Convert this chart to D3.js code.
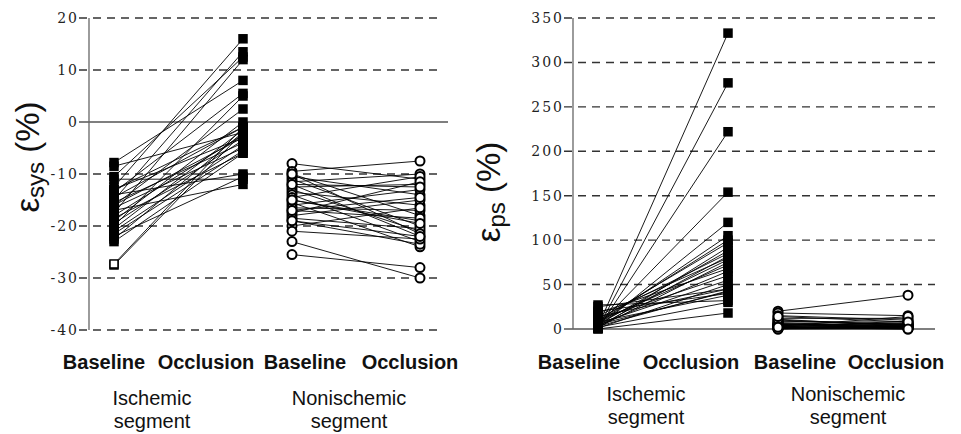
<!DOCTYPE html>
<html><head><meta charset="utf-8">
<script src="https://cdn.jsdelivr.net/npm/d3@7"></script>
<style>body{margin:0;background:#fff}svg{display:block}</style>
</head><body>
<script>
// ---- data ----
const groups = ["Ischemic", "Nonischemic"];
const phases = ["Baseline", "Occlusion"];
const sysTicks = [20, 10, 0, -10, -20, -30, -40];
const psTicks = [0, 50, 100, 150, 200, 250, 300, 350];

const isoSysBase = [-7.8, -8.5, -10.5, -11, -12.5, -13, -13.5, -14, -14.5, -15, -15.5, -16, -16.5, -17, -17.5, -18, -18.5, -19, -19.5, -20, -20.5, -21, -21.5, -22, -22.5, -23, -13, -16, -27.5, -27.3];
const isoSysOcc  = [8, -2, 12.5, -11, 16, -3, 5.5, -10, -1, 13.5, -4, 2.5, -5, -12, 12, -2.5, -6, 0, -3.5, 5, -1.5, -4.5, -5.5, -10.5, -2, -6, -1, -3, -2, -1];
const nonSysBase = [-8, -9.5, -10, -10.5, -11, -11.5, -12, -12.5, -13, -13.5, -14, -14.5, -15, -15.5, -16, -16.5, -17, -17.5, -18, -18.5, -19, -20, -21, -23, -25.5, -10, -12, -15, -17, -19];
const nonSysOcc  = [-11, -7.5, -18, -14, -20, -10, -22, -12, -21, -16, -23, -10.5, -19, -24, -13, -17, -18.5, -11.5, -15, -20.5, -23.5, -16.5, -22.5, -30, -28, -21.5, -12.5, -19.5, -14.5, -22];

const isoPsBase = [3, 1, 0.5, 4, 2, 6, 8, 10, 1, 5, 12, 3, 15, 7, 2, 9, 18, 4, 11, 6, 25, 1, 14, 3, 20, 5, 8, 2, 0, 27];
const isoPsOcc  = [333, 277, 222, 154, 120, 105, 100, 97, 92, 88, 85, 82, 80, 78, 75, 72, 68, 65, 60, 55, 45, 50, 45, 43, 40, 42, 38, 30, 18, 32];
const nonPsBase = [20, 18, 15, 12, 10, 8, 7, 6, 5, 5, 4, 4, 3, 3, 2, 2, 2, 1, 1, 1, 0.5, 0.5, 0, 0, 3, 6, 9, 11, 14, 2];
const nonPsOcc  = [38, 15, 10, 12, 5, 8, 3, 4, 6, 2, 7, 1, 3, 5, 2, 9, 1, 4, 0.5, 2, 0, 3, 1, 6, 14, 2, 5, 3, 8, 0];

// ---- drawing ----
const W = 961, H = 434;
const svg = d3.select("body").append("svg").attr("width", W).attr("height", H);
const SANS = "Liberation Sans, Arial, Helvetica, sans-serif";

function panel(cfg) {
  const g = svg.append("g");
  const y = d3.scaleLinear().domain(cfg.domain).range([cfg.y0, cfg.y1]);
  const x = d3.scaleOrdinal().domain([0,1,2,3]).range(cfg.xs);

  // gridlines
  g.selectAll("line.grid").data(cfg.ticks).enter().append("line")
    .attr("x1", cfg.axisX - cfg.tickLen).attr("x2", d => d === 0 ? cfg.zeroEnd : cfg.gridEnd)
    .attr("y1", d => y(d)).attr("y2", d => y(d))
    .attr("stroke", d => d === 0 ? "#555" : "#333")
    .attr("stroke-width", d => d === 0 ? 1.6 : 1.4)
    .attr("stroke-dasharray", d => d === 0 ? null : "8,6");
  // axis line
  g.append("line").attr("x1", cfg.axisX).attr("x2", cfg.axisX)
    .attr("y1", y(cfg.domain[1])).attr("y2", y(cfg.domain[0]))
    .attr("stroke", "#666").attr("stroke-width", 1.3);
  // tick labels
  g.selectAll("text.tick").data(cfg.ticks).enter().append("text")
    .attr("x", cfg.labelRight).attr("y", d => y(d) + 5)
    .attr("text-anchor", "end")
    .attr("font-family", "DejaVu Serif, Liberation Serif, serif")
    .attr("font-size", 14).attr("letter-spacing", 2).attr("fill", "#222").text(d => d);

  // connecting lines
  const sets = [[cfg.iso[0], cfg.iso[1], 0], [cfg.non[0], cfg.non[1], 2]];
  sets.forEach(([b, o, k]) => {
    g.selectAll(null).data(d3.range(b.length)).enter().append("line")
      .attr("x1", x(k)).attr("x2", x(k + 1))
      .attr("y1", i => y(b[i])).attr("y2", i => y(o[i]))
      .attr("stroke", "#000").attr("stroke-width", 0.9);
  });
  // squares
  const s = 8;
  [[cfg.iso[0], 0], [cfg.iso[1], 1]].forEach(([vals, k]) => {
    g.selectAll(null).data(vals).enter().append("rect")
      .attr("x", x(k) - s / 2).attr("y", d => y(d) - s / 2)
      .attr("width", s).attr("height", s)
      .attr("fill", (d, i) => (k === 0 && cfg.openLast && i === vals.length - 1) ? "#fff" : "#000")
      .attr("stroke", "#000").attr("stroke-width", 1.5);
  });
  // circles
  [[cfg.non[0], 2], [cfg.non[1], 3]].forEach(([vals, k]) => {
    g.selectAll(null).data(vals).enter().append("circle")
      .attr("cx", x(k)).attr("cy", d => y(d)).attr("r", 4.5)
      .attr("fill", "#fff").attr("stroke", "#000").attr("stroke-width", 2);
  });

  // phase labels
  g.selectAll(null).data([0,1,2,3]).enter().append("text")
    .attr("x", i => cfg.labelXs[i]).attr("y", 369)
    .attr("text-anchor", "middle")
    .attr("font-family", SANS)
    .attr("font-weight", "bold").attr("font-size", 20).attr("fill", "#111")
    .text(i => phases[i % 2]);
  g.selectAll(null).data(groups).enter().append("text")
    .attr("x", (d, i) => cfg.groupXs[i]).attr("y", cfg.groupY[0])
    .attr("text-anchor", "middle")
    .attr("font-family", SANS)
    .attr("font-size", 20).attr("fill", "#111").text(d => d);
  g.selectAll(null).data(groups).enter().append("text")
    .attr("x", (d, i) => cfg.groupXs[i]).attr("y", cfg.groupY[1])
    .attr("text-anchor", "middle")
    .attr("font-family", SANS)
    .attr("font-size", 20).attr("fill", "#111").text("segment");

  // y label
  const yl = g.append("text")
    .attr("transform", `translate(${cfg.ylab[0]},${cfg.ylab[1]}) rotate(-90)`)
    .attr("text-anchor", "middle")
    .attr("font-family", SANS)
    .attr("font-size", 33).attr("fill", "#111");
  yl.append("tspan").text("ε");
  yl.append("tspan").attr("font-size", 24).attr("dy", 5).text(cfg.sub);
  yl.append("tspan").attr("dy", -5).text(" (%)");
}

panel({
  domain: [-40, 20], y0: 330, y1: 18, ticks: sysTicks,
  axisX: 89, tickLen: 10, gridEnd: 442, zeroEnd: 448, labelRight: 79,
  xs: [114, 243, 292, 420],
  iso: [isoSysBase, isoSysOcc], non: [nonSysBase, nonSysOcc], openLast: true,
  labelXs: [104, 206, 305, 410], groupXs: [152, 349], groupY: [405, 428],
  ylab: [39, 157], sub: "sys"
});
panel({
  domain: [0, 350], y0: 329, y1: 18, ticks: psTicks,
  axisX: 573, tickLen: 9, gridEnd: 935, zeroEnd: 935, labelRight: 564,
  xs: [598, 728, 778, 908],
  iso: [isoPsBase, isoPsOcc], non: [nonPsBase, nonPsOcc], openLast: false,
  labelXs: [579, 691, 795, 896], groupXs: [646, 848], groupY: [401, 424],
  ylab: [500, 192], sub: "ps"
});
</script>
</body></html>
